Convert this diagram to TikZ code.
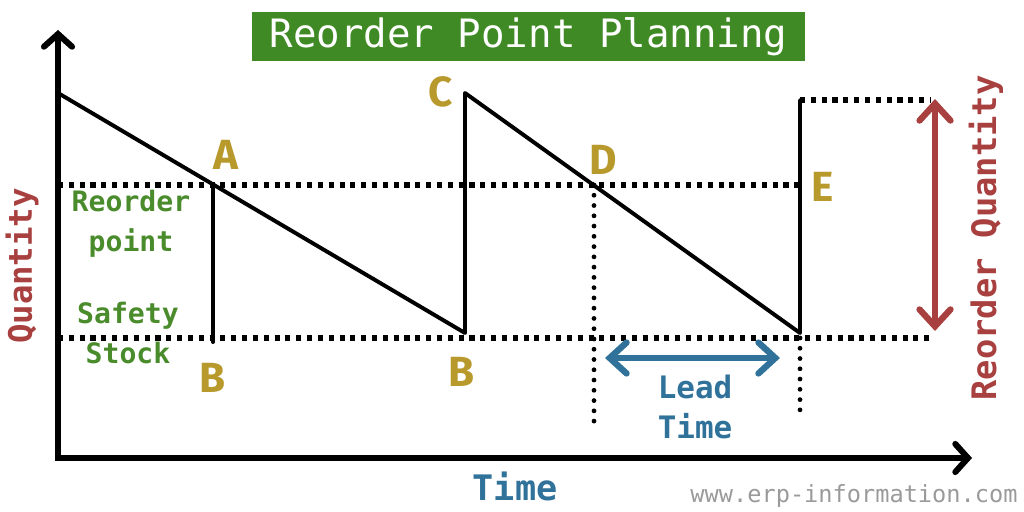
\documentclass[tikz,border=0pt]{standalone}
\usepackage{fontspec}
\setmonofont{DejaVu Sans Mono}
\newfontfamily\letterfont{Fira Sans}
\usetikzlibrary{arrows.meta,positioning,calc}
\definecolor{Ink}{HTML}{000000}
\definecolor{TitleGreen}{HTML}{3F8A24}
\definecolor{LabelGreen}{HTML}{4A8B2C}
\definecolor{Gold}{HTML}{B8992C}
\definecolor{QtyRed}{HTML}{A8403F}
\definecolor{LeadBlue}{HTML}{30729A}
\definecolor{Mark}{HTML}{9A9A9A}
\tikzset{
  axis/.style={Ink,line width=4.3pt,-{Straight Barb[length=9pt,width=20pt,line cap=round]}},
  saw/.style={Ink,line width=2.8pt,line cap=round,line join=round},
  hdots/.style={Ink,line width=3.6pt,dash pattern=on 3.6pt off 4.1pt},
  vdots/.style={Ink,line width=3.4pt,line cap=round,dash pattern=on 0pt off 7.3pt},
  pointlbl/.style={text=Gold,font=\letterfont\bfseries\fontsize{30}{30}\selectfont},
  greenlbl/.style={text=LabelGreen,font=\ttfamily\bfseries\fontsize{20}{28.5}\selectfont,align=center},
  twoway/.style={line width=4.5pt,{Straight Barb[length=12pt,width=22pt,line cap=round]}-{Straight Barb[length=12pt,width=22pt,line cap=round]}}
}
\begin{document}
\begin{tikzpicture}[x=0.025cm,y=-0.025cm]
\useasboundingbox (0,0) rectangle (1024,512);
% title
\node[fill=TitleGreen,text=white,minimum width=553*0.025cm,minimum height=49*0.025cm,inner sep=0pt,font=\ttfamily\fontsize{27.8}{27.8}\selectfont] (title) at (528.5,36.5) {Reorder Point Planning};
% key points
\coordinate (o) at (58,458);
\coordinate (ytop) at (58,30);
\coordinate (xend) at (972,458);
\coordinate (s0) at (58,93);
\coordinate (a) at (213,185);
\coordinate (a0) at (213,342);
\coordinate (b1) at (465,333);
\coordinate (c) at (465,93);
\coordinate (d) at (594,185);
\coordinate (d0) at (594,428);
\coordinate (b2) at (800,333);
\coordinate (e) at (800,100);
\coordinate (rp0) at (58,185);
\coordinate (ss0) at (58,338);
\coordinate (ss1) at (930,338);
\coordinate (rq1) at (930,100);
\coordinate (e0) at (800,420);
% dotted guides
\draw[hdots] (rp0) -- (b2|-rp0);
\draw[hdots] (ss0) -- (ss1);
\draw[hdots] (e) -- (rq1);
\draw[vdots] (d) -- (d0);
\draw[vdots] (b2|-ss0) -- (e0);
% stock level
\draw[saw] (s0) -- (b1) -- (c) -- (b2) -- (e);
\draw[saw] (a) -- (a0);
% axes
\draw[axis] (58,461) -- (ytop);
\draw[axis] (55,458) -- (xend);
% arrows
\draw[twoway,LeadBlue] (605,358) -- (780,358);
\draw[twoway,QtyRed] (935,99) -- (935,331);
% point labels
\node[pointlbl] (la) at (226,155) {A};
\node[pointlbl] (lb1) at (213,378) {B};
\node[pointlbl] (lc) at (441,92) {C};
\node[pointlbl] (lb2) at (462,372) {B};
\node[pointlbl] (ld) at (603,160) {D};
\node[pointlbl] (le) at (823,187) {E};
% texts
\node[greenlbl] (rp) at (131,224) {Reorder\\point};
\node[greenlbl] (ss) at (128,333) {Safety\\Stock};
\node[rotate=90,text=QtyRed,font=\ttfamily\bfseries\fontsize{23}{23}\selectfont] (qty) at (22,266) {Quantity};
\node[rotate=90,text=QtyRed,font=\ttfamily\bfseries\fontsize{24}{24}\selectfont] (rq) at (986,238) {Reorder Quantity};
\node[text=LeadBlue,font=\ttfamily\bfseries\fontsize{25}{25}\selectfont] (time) at (515,486) {Time};
\node[text=LeadBlue,font=\ttfamily\bfseries\fontsize{22}{28.5}\selectfont,align=center] (lead) at (695,407) {Lead\\Time};
\node[text=Mark,font=\ttfamily\fontsize{16.8}{17}\selectfont] (www) at (854,496) {www.erp-information.com};
\end{tikzpicture}
\end{document}
